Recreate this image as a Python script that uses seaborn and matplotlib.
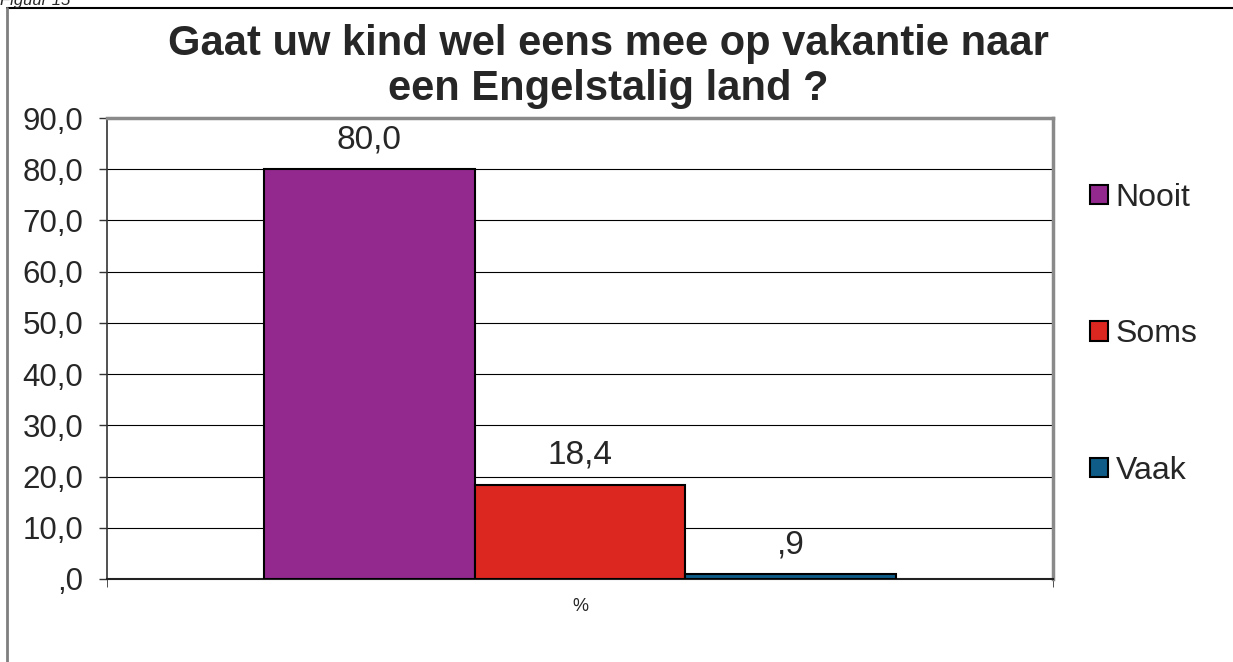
import pandas as pd
import numpy as np
import matplotlib
matplotlib.use("Agg")
import matplotlib.pyplot as plt
import seaborn as sns
from matplotlib.patches import Rectangle
from matplotlib.lines import Line2D

# data
categories = ["%"]
series = ["Nooit", "Soms", "Vaak"]
values = [80.0, 18.4, 0.9]
colors = ["#93298E", "#DC2620", "#0E5C87"]
yticks = [0, 10, 20, 30, 40, 50, 60, 70, 80, 90]

def nl_fmt(v):
    s = f"{v:.1f}".replace(".", ",")
    if s.startswith("0,"):
        s = s[1:]
    return s

frame = pd.DataFrame({"cat": categories * len(series), "series": series, "val": values})

sns.set_style("white")
plt.rcParams["font.family"] = ["Liberation Sans", "DejaVu Sans"]

fig = plt.figure(figsize=(12.33, 6.62), dpi=100)
ax = fig.add_axes([107 / 1233, 83 / 662, 946 / 1233, 461 / 662])

sns.barplot(data=frame, x="cat", y="val", hue="series", palette=colors, saturation=1,
            width=0.668, edgecolor="black", linewidth=1.5, ax=ax, legend=False,
            zorder=3)

ax.set_ylim(0, 90)
ax.set_xlim(-0.5, 0.5)
ax.set_yticks(yticks)
ax.set_yticklabels([nl_fmt(v) for v in yticks], fontsize=22.5)
ax.set_xticks([0])
ax.set_xticklabels(categories, fontsize=13)
ax.set_xlabel("")
ax.set_ylabel("")
ax.yaxis.grid(True, color="black", linewidth=0.8, zorder=0)
ax.set_axisbelow(True)
ax.tick_params(axis="y", direction="out", length=6, width=1, color="#333333", left=True, pad=11)
ax.tick_params(axis="x", which="major", length=0, pad=14)
ax.set_xticks([-0.5, 0.5], minor=True)
ax.tick_params(axis="x", which="minor", direction="out", length=6, color="#333333", bottom=True)

for side in ["top", "right"]:
    ax.spines[side].set_color("#8a8a8a")
    ax.spines[side].set_linewidth(2.5)
ax.spines["left"].set_color("#333333")
ax.spines["left"].set_linewidth(1.2)
ax.spines["bottom"].set_color("#222222")
ax.spines["bottom"].set_linewidth(1.5)

for cont, v in zip(ax.containers, values):
    ax.bar_label(cont, labels=[nl_fmt(v)], fontsize=24, padding=10)

handles = [Rectangle((0, 0), 1, 1, facecolor=c, edgecolor="black", linewidth=1.5) for c in colors]
fig.legend(handles, series, loc="upper left", bbox_to_anchor=(1074 / 1233, 1 - 167 / 662),
           frameon=False, fontsize=23, handlelength=0.55, handleheight=0.55,
           handletextpad=0.25, labelspacing=3.33, borderpad=0)

fig.suptitle("Gaat uw kind wel eens mee op vakantie naar\neen Engelstalig land ?",
             x=608 / 1233, y=1 - 24 / 662, fontsize=30, fontweight="bold",
             va="top", linespacing=1.15)

# caption cut off at the top and the outer chart border
fig.text(0.0, 1.0, "Figuur 15", fontsize=12, style="italic", va="center", ha="left")
fig.add_artist(Line2D([7 / 1233, 1.0], [1 - 8 / 662, 1 - 8 / 662], transform=fig.transFigure,
                      color="black", linewidth=1.5))
fig.add_artist(Line2D([7 / 1233, 7 / 1233], [0.0, 1 - 8 / 662], transform=fig.transFigure,
                      color="#7f7f7f", linewidth=2))

fig.savefig("out.png", dpi=100)
